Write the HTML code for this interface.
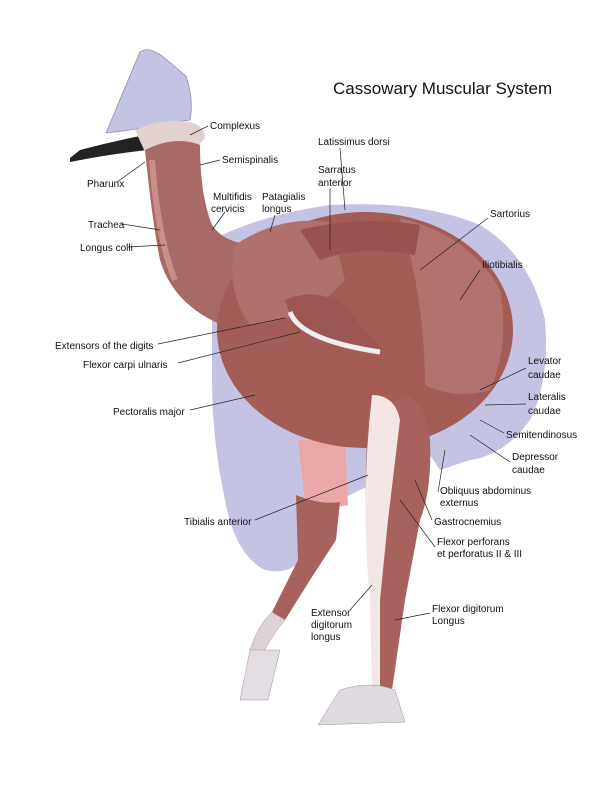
<!DOCTYPE html>
<html><head><meta charset="utf-8"><style>
html,body{margin:0;padding:0;background:#fff}
svg{display:block}
text{font-family:"Liberation Sans",sans-serif;font-size:10px;fill:#111}
</style></head><body>
<svg width="600" height="785" viewBox="0 0 600 785">
<rect width="600" height="785" fill="#fff"/>
<!-- lavender silhouette -->
<path d="M212 240 Q260 215 330 205 Q420 200 480 225 Q530 255 545 320 Q550 380 530 420 Q505 455 470 460 L440 470 L430 455 L340 500 Q300 520 300 560 Q290 575 265 570 Q235 555 225 500 Q212 440 212 380 Z" fill="#c4c3e3"/>
<!-- casque -->
<path d="M106 133 L140 52 Q148 46 162 56 L186 76 Q194 100 190 120 L160 124 Q135 130 106 133 Z" fill="#c3c3e3" stroke="#8f8fb0" stroke-width="0.8"/>
<!-- beak -->
<path d="M70 158 L80 150 Q110 142 140 136 L148 150 Q110 154 70 162 Z" fill="#222"/>
<path d="M135 130 Q160 118 190 122 Q205 126 205 138 L195 150 L145 152 Z" fill="#e2d2cf"/>
<!-- pink thigh skin -->
<path d="M298 440 L345 440 L348 505 Q325 510 305 500 Z" fill="#eba6a8"/>
<!-- neck -->
<path d="M145 150 Q175 135 200 145 Q200 195 212 225 Q225 245 260 245 L270 300 L235 330 Q175 310 160 260 Q152 220 145 150 Z" fill="#a86a66"/>
<path d="M152 160 Q158 240 175 280" stroke="#c98f88" stroke-width="6" fill="none"/>
<!-- body -->
<ellipse cx="365" cy="330" rx="148" ry="118" fill="#a45c57"/>
<path d="M235 245 Q280 215 330 222 L345 280 Q310 320 250 325 Q225 290 235 245 Z" fill="#b0716b"/>
<path d="M400 218 Q470 235 500 290 Q510 345 490 390 Q455 400 425 385 Q425 300 400 218 Z" fill="#b3726d"/>
<path d="M300 230 Q360 215 420 225 L415 255 Q360 245 320 260 Z" fill="#9a524e"/>
<!-- wing -->
<path d="M285 300 Q320 285 350 310 Q370 340 385 350 Q340 350 295 330 Z" fill="#9c5753"/>
<path d="M290 312 Q300 340 380 352" stroke="#eee" stroke-width="5" fill="none"/>
<!-- right leg -->
<path d="M405 395 Q425 400 430 440 Q432 490 420 520 L405 600 L392 690 L378 690 L372 600 Q362 520 368 420 Z" fill="#a8625e"/>
<path d="M372 395 Q395 395 400 420 L388 520 L380 600 L380 690 L372 690 L370 600 Q360 500 372 395 Z" fill="#f3e6e4"/>
<path d="M340 690 Q370 680 395 690 L405 722 L318 725 Q330 705 340 690 Z" fill="#e0d9e0" stroke="#999" stroke-width="0.5"/>
<!-- left leg -->
<path d="M296 495 Q320 505 340 502 L336 540 L310 580 L285 620 L272 612 L298 560 Z" fill="#a8625e"/>
<path d="M272 612 L285 620 Q268 640 260 660 L258 690 L248 690 L250 650 Q258 625 272 612 Z" fill="#ddd2d6" stroke="#999" stroke-width="0.5"/>
<path d="M250 650 L240 700 L268 700 L280 650 Z" fill="#e4dde4" stroke="#999" stroke-width="0.5"/>
<!-- title -->
<text x="333" y="94" style="font-size:17px">Cassowary Muscular System</text>
<g stroke="#222" stroke-width="0.7" fill="none">
<line x1="208" y1="126" x2="190" y2="135"/>
<line x1="220" y1="160" x2="200" y2="165"/>
<line x1="340" y1="148" x2="345" y2="210"/>
<line x1="117" y1="182" x2="145" y2="162"/>
<line x1="225" y1="212" x2="212" y2="230"/>
<line x1="275" y1="215" x2="270" y2="232"/>
<line x1="330" y1="188" x2="330" y2="250"/>
<line x1="488" y1="218" x2="420" y2="270"/>
<line x1="122" y1="224" x2="160" y2="230"/>
<line x1="128" y1="247" x2="165" y2="245"/>
<line x1="480" y1="270" x2="460" y2="300"/>
<line x1="158" y1="344" x2="285" y2="318"/>
<line x1="178" y1="363" x2="300" y2="332"/>
<line x1="526" y1="368" x2="480" y2="390"/>
<line x1="190" y1="410" x2="255" y2="395"/>
<line x1="526" y1="404" x2="485" y2="405"/>
<line x1="504" y1="433" x2="480" y2="420"/>
<line x1="510" y1="462" x2="470" y2="435"/>
<line x1="438" y1="492" x2="445" y2="450"/>
<line x1="432" y1="520" x2="415" y2="480"/>
<line x1="255" y1="520" x2="368" y2="475"/>
<line x1="435" y1="547" x2="400" y2="500"/>
<line x1="430" y1="613" x2="395" y2="620"/>
<line x1="350" y1="610" x2="372" y2="585"/>
</g>
<text x="210" y="129">Complexus</text>
<text x="222" y="163">Semispinalis</text>
<text x="318" y="145">Latissimus dorsi</text>
<text x="87" y="187">Pharunx</text>
<text x="213" y="200">Multifidis</text><text x="211" y="212">cervicis</text>
<text x="262" y="200">Patagialis</text><text x="262" y="212">longus</text>
<text x="318" y="173">Sarratus</text><text x="318" y="186">anterior</text>
<text x="490" y="217">Sartorius</text>
<text x="88" y="228">Trachea</text>
<text x="80" y="251">Longus colli</text>
<text x="482" y="268">Iliotibialis</text>
<text x="55" y="349">Extensors of the digits</text>
<text x="83" y="368">Flexor carpi ulnaris</text>
<text x="528" y="364">Levator</text><text x="528" y="378">caudae</text>
<text x="113" y="415">Pectoralis major</text>
<text x="528" y="400">Lateralis</text><text x="528" y="414">caudae</text>
<text x="506" y="438">Semitendinosus</text>
<text x="512" y="460">Depressor</text><text x="512" y="473">caudae</text>
<text x="440" y="494">Obliquus abdominus</text><text x="440" y="506">externus</text>
<text x="434" y="525">Gastrocnemius</text>
<text x="184" y="525">Tibialis anterior</text>
<text x="437" y="545">Flexor perforans</text><text x="437" y="557">et perforatus II &amp; III</text>
<text x="432" y="612">Flexor digitorum</text><text x="432" y="624">Longus</text>
<text x="311" y="616">Extensor</text><text x="311" y="628">digitorum</text><text x="311" y="640">longus</text>
</svg>
</body></html>
